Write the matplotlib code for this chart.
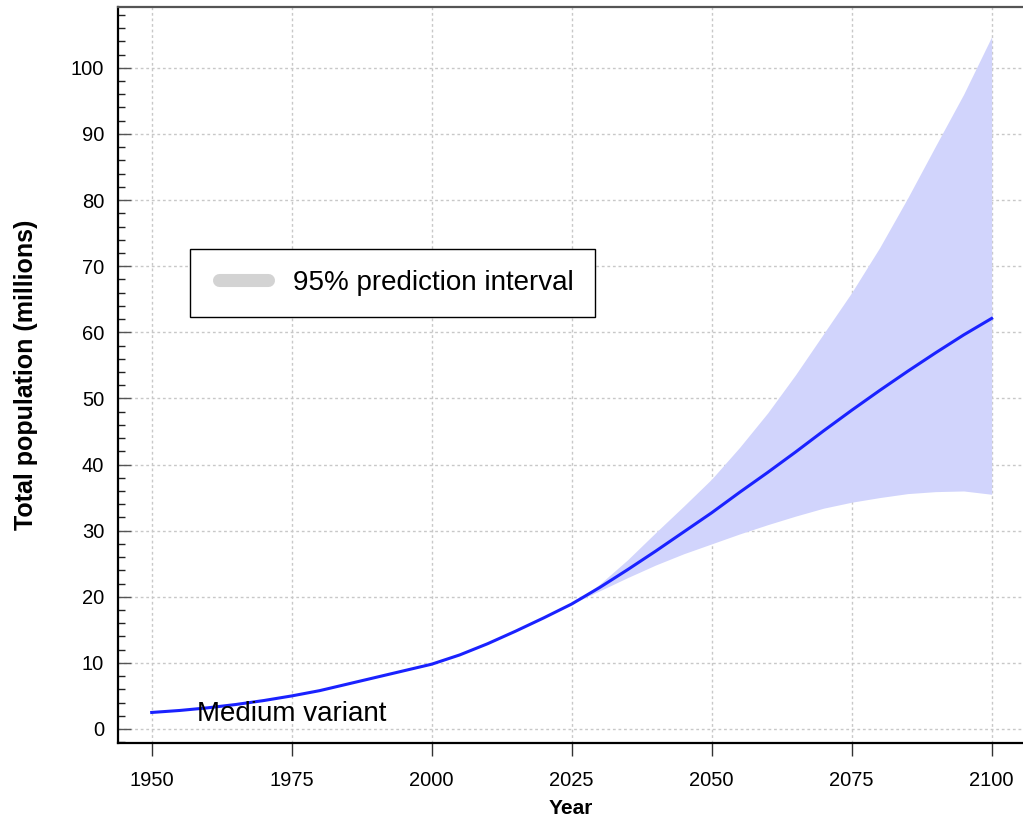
import numpy as np
import matplotlib
matplotlib.use("Agg")
import matplotlib.pyplot as plt
from matplotlib.lines import Line2D

plt.rcParams['font.family'] = ['Liberation Sans', 'DejaVu Sans']

# medium variant, every 5 years
years = [1950, 1955, 1960, 1965, 1970, 1975, 1980, 1985, 1990, 1995, 2000,
         2005, 2010, 2015, 2020, 2025, 2030, 2035, 2040, 2045, 2050,
         2055, 2060, 2065, 2070, 2075, 2080, 2085, 2090, 2095, 2100]
medium = [2.5, 2.8, 3.2, 3.7, 4.3, 5.0, 5.8, 6.8, 7.8, 8.8, 9.8,
          11.2, 12.9, 14.8, 16.8, 18.9, 21.4, 24.1, 26.9, 29.8, 32.7,
          35.8, 38.8, 41.9, 45.1, 48.2, 51.2, 54.1, 56.9, 59.6, 62.1]

# 95% prediction interval
pi_years = [2025, 2030, 2035, 2040, 2045, 2050, 2055, 2060, 2065, 2070,
            2075, 2080, 2085, 2090, 2095, 2100]
pi_upper = [18.9, 21.9, 25.6, 29.7, 33.7, 37.8, 42.6, 47.8, 53.6, 59.8,
            66.0, 72.8, 80.3, 88.2, 96.0, 104.7]
pi_lower = [18.9, 20.9, 22.9, 24.8, 26.5, 28.0, 29.5, 30.9, 32.2, 33.4,
            34.3, 35.0, 35.6, 35.9, 36.0, 35.5]

xticks = [1950, 1975, 2000, 2025, 2050, 2075, 2100]
yticks = [0, 10, 20, 30, 40, 50, 60, 70, 80, 90, 100]

fig = plt.figure(figsize=(10.23, 8.21), dpi=100)
ax = fig.add_axes([118 / 1023, 78 / 821, 905 / 1023, 736 / 821])

ax.fill_between(pi_years, pi_lower, pi_upper, color='#d1d4fc', linewidth=0, zorder=1)
ax.plot(years, medium, color='#1a22ff', linewidth=2.2, zorder=3)

ax.text(1958.0, 1.25, 'Medium variant', fontsize=20, va='baseline', ha='left', zorder=4)

ax.set_xlim(1943.98, 2105.6)
ax.set_ylim(-2.12, 109.2)
ax.set_xticks(xticks)
ax.set_yticks(yticks)
ax.set_yticks(np.arange(-2, 110, 2), minor=True)

ax.grid(True, which='major', color='#c8c8c8', linestyle=(0, (2, 2)), linewidth=1, zorder=0)
ax.set_axisbelow(True)

ax.tick_params(axis='x', which='major', direction='out', length=9.4, width=1,
               color='#333333', labelsize=14.5, pad=11)
ax.tick_params(axis='y', which='major', direction='in', length=9.5, width=1,
               color='#555555', labelsize=14.5, pad=10)
ax.tick_params(axis='y', which='minor', direction='in', length=5, width=1, color='#222222')
ax.tick_params(axis='x', which='minor', bottom=False)

ax.set_xlabel('Year', fontsize=15, fontweight='bold')
ax.set_ylabel('Total population (millions)', fontsize=18, fontweight='bold')
ax.xaxis.set_label_coords(0.5, -0.076)
ax.yaxis.set_label_coords(-0.0884, 0.5)

ax.spines['right'].set_visible(False)
ax.spines['top'].set_color('#555555')
ax.spines['top'].set_linewidth(1.6)
ax.spines['left'].set_linewidth(1.6)
ax.spines['bottom'].set_linewidth(1.6)

handle = Line2D([0, 1], [0, 0], color='#d3d3d3', linewidth=9.4, solid_capstyle='round')
leg = ax.legend([handle], ['95% prediction interval'], loc='upper left',
                bbox_to_anchor=(0.0796, 0.6712), borderaxespad=0, fontsize=20,
                numpoints=2, handlelength=2.35, handletextpad=0.6, borderpad=0.76,
                fancybox=False, framealpha=1, edgecolor='black')
leg.get_frame().set_linewidth(1.0)

fig.savefig('out.png', dpi=100)
